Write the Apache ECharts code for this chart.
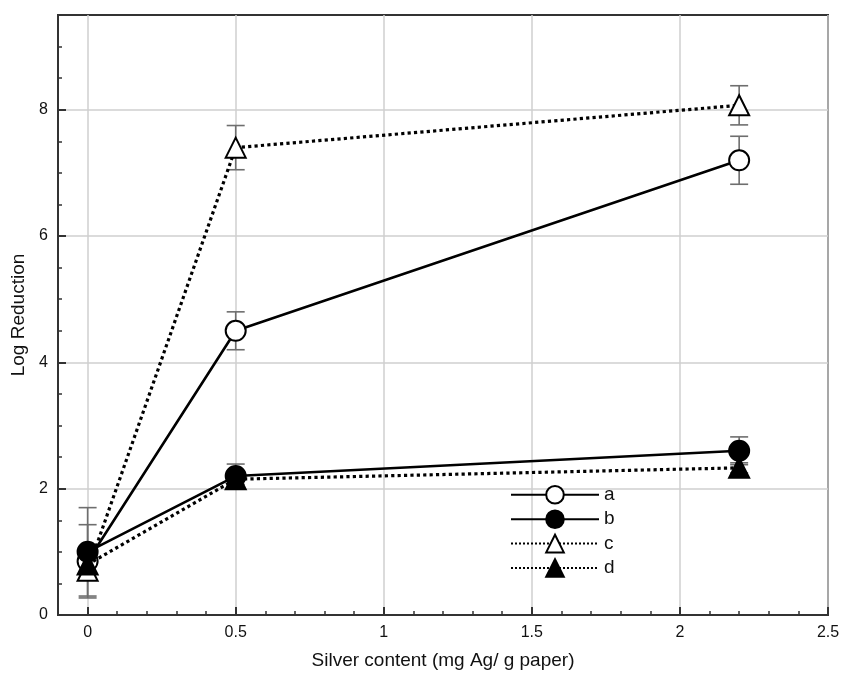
<!DOCTYPE html>
<html>
<head>
<meta charset="utf-8">
<script src="https://cdn.jsdelivr.net/npm/echarts@6/dist/echarts.min.js"></script>
<style>
html,body{margin:0;padding:0;background:#fff;}
#chart{width:843px;height:673px;}
</style>
</head>
<body>
<div id="chart"></div>
<script>
// ---- data ----
var xValues = [0, 0.5, 2.2];
var seriesNames = ['a', 'b', 'c', 'd'];
var aValues = [0.85, 4.5, 7.2];
var bValues = [1.0, 2.2, 2.6];
var cValues = [0.7, 7.4, 8.07];
var dValues = [0.8, 2.15, 2.33];
var aErr = [0.58, 0.3, 0.38];
var bErr = [0.7, 0.19, 0.22];
var cErr = [0.13, 0.35, 0.31];
var dErr = [0.25, 0.08, 0.08];
var xTickValues = [0, 0.5, 1, 1.5, 2, 2.5];
var yTickValues = [0, 2, 4, 6, 8];

var FONT = '"Liberation Sans", Arial, Helvetica, sans-serif';

function pairs(vals) {
  return xValues.map(function (x, i) { return [x, vals[i]]; });
}
function errData(vals, errs) {
  return xValues.map(function (x, i) { return [x, vals[i] - errs[i], vals[i] + errs[i]]; });
}
function errRender(params, api) {
  var x = api.value(0);
  var lo = api.coord([x, api.value(1)]);
  var hi = api.coord([x, api.value(2)]);
  var hw = 9;
  var st = { stroke: '#6e6e6e', lineWidth: 1.6 };
  return {
    type: 'group',
    children: [
      { type: 'line', shape: { x1: lo[0], y1: lo[1], x2: hi[0], y2: hi[1] }, style: st },
      { type: 'line', shape: { x1: lo[0] - hw, y1: lo[1], x2: lo[0] + hw, y2: lo[1] }, style: st },
      { type: 'line', shape: { x1: hi[0] - hw, y1: hi[1], x2: hi[0] + hw, y2: hi[1] }, style: st }
    ]
  };
}

var valueSets = [aValues, bValues, cValues, dValues];
var errSets = [aErr, bErr, cErr, dErr];
var symbols = ['emptyCircle', 'circle', 'emptyTriangle', 'triangle'];
var lineTypes = ['solid', 'solid', 'dotted', 'dotted'];
var lineWidths = [2.6, 2.6, 3.2, 3.2];

var series = [];
errSets.forEach(function (e, i) {
  series.push({
    type: 'custom',
    name: 'err' + i,
    xAxisIndex: 0, yAxisIndex: 0,
    renderItem: errRender,
    data: errData(valueSets[i], e),
    z: 2,
    silent: true
  });
});
seriesNames.forEach(function (n, i) {
  series.push({
    type: 'line',
    name: n,
    xAxisIndex: 0, yAxisIndex: 0,
    data: pairs(valueSets[i]),
    symbol: symbols[i],
    symbolSize: 20,
    showAllSymbol: true,
    lineStyle: { color: '#000', width: lineWidths[i], type: lineTypes[i] },
    itemStyle: { color: '#000', borderColor: '#000', borderWidth: 2 },
    z: 3 + i,
    animation: false
  });
});

var chart = echarts.init(document.getElementById('chart'), null, { renderer: 'canvas' });
chart.setOption({
  animation: false,
  backgroundColor: '#fff',
  grid: {
    left: 58, right: 15, top: 15, bottom: 58,
    outerBoundsMode: 'none', containLabel: false,
    show: true, borderColor: '#333', borderWidth: 2, backgroundColor: 'transparent'
  },
  legend: {
    data: seriesNames,
    orient: 'vertical',
    left: 505, top: 480,
    itemWidth: 88, itemHeight: 22, itemGap: 4.8,
    textStyle: { fontSize: 19, lineHeight: 18, color: '#111', fontFamily: FONT },
    inactiveColor: '#000'
  },
  xAxis: [{
    type: 'value', min: -0.1, max: 2.5,
    name: 'Silver content (mg Ag/ g paper)',
    nameLocation: 'middle', nameGap: 36,
    nameTextStyle: { fontSize: 19, color: '#111', fontFamily: FONT },
    axisLine: { show: true, onZero: false, lineStyle: { color: '#333', width: 2 } },
    axisTick: { show: true, inside: true, length: 8, lineStyle: { color: '#333', width: 2 }, customValues: xTickValues },
    axisLabel: { show: true, fontSize: 16, color: '#111', margin: 10, fontFamily: FONT, customValues: xTickValues,
      formatter: function (v) { return String(Math.round(v * 10) / 10); } },
    splitLine: { show: true, lineStyle: { color: '#cfcfcf', width: 1.5 } }
  }, {
    type: 'value', min: -0.1, max: 2.5, interval: 0.1, position: 'bottom',
    axisLine: { show: false, onZero: false },
    axisTick: { show: true, inside: true, length: 4, lineStyle: { color: '#333', width: 1.5 } },
    axisLabel: { show: false },
    splitLine: { show: false }
  }],
  yAxis: [{
    type: 'value', min: 0, max: 9.5,
    name: 'Log Reduction',
    nameLocation: 'middle', nameGap: 27,
    nameTextStyle: { fontSize: 19, color: '#111', fontFamily: FONT },
    axisLine: { show: true, onZero: false, lineStyle: { color: '#333', width: 2 } },
    axisTick: { show: true, inside: true, length: 8, lineStyle: { color: '#333', width: 2 }, customValues: yTickValues },
    axisLabel: { show: true, fontSize: 16, color: '#111', margin: 10, fontFamily: FONT, customValues: yTickValues },
    splitLine: { show: true, lineStyle: { color: '#cfcfcf', width: 1.5 } }
  }, {
    type: 'value', min: 0, max: 9.5, interval: 0.5, position: 'left',
    axisLine: { show: false, onZero: false },
    axisTick: { show: true, inside: true, length: 4, lineStyle: { color: '#333', width: 1.5 } },
    axisLabel: { show: false },
    splitLine: { show: false }
  }],
  series: series
});
</script>
</body>
</html>
